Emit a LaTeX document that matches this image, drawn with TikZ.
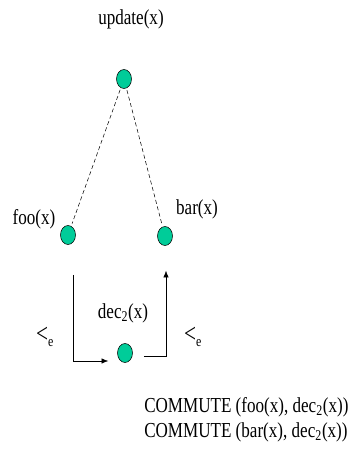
\documentclass[tikz,border=0pt]{standalone}
\usepackage{fontspec}
\setmainfont{Liberation Serif}[FakeStretch=0.8]
\usetikzlibrary{shapes.geometric,arrows.meta}
\definecolor{opgreen}{RGB}{0,204,153}
\newcommand{\ordsym}{{\fontsize{20}{20}\selectfont<}\textsubscript{e}}
\begin{document}
\begin{tikzpicture}[
  x=0.75pt, y=-0.75pt,
  op/.style={ellipse, draw, thin, fill=opgreen, minimum width=11.25pt, minimum height=14.25pt, inner sep=0pt},
  lbl/.style={font=\fontsize{16}{19}\selectfont, inner sep=0pt},
  conflict/.style={draw, densely dashed, thin, shorten <=1.5pt, shorten >=2pt},
  elbow/.style={draw, thin, -{Latex[length=5pt,width=4pt]}}
]
  \useasboundingbox (0,0) rectangle (360,466);
  % operations
  \node[op] (update) at (124,79) {};
  \node[op] (foo) at (68,235) {};
  \node[op] (bar) at (165,236) {};
  \node[op] (dec) at (125,353) {};

  % names
  \node[lbl] (updatelbl) at (131,19) {update(x)};
  \node[lbl] (foolbl) at (34,219) {foo(x)};
  \node[lbl] (barlbl) at (197,209) {bar(x)};
  \node[lbl] (declbl) at (123,313) {dec\textsubscript{2}(x)};

  \draw[conflict] (update) -- (foo);
  \draw[conflict] (update) -- (bar);

  % execution order
  \draw[elbow, shorten <=22.5pt, shorten >=6.75pt] ([xshift=3.75pt]foo.south) |- ([yshift=-6pt]dec.west);
  \draw[elbow, shorten <=8.25pt, shorten >=18.75pt] ([yshift=-2.25pt]dec.east) -| ([xshift=0.75pt]bar.south);
  \node[lbl] (orderleft) at (45,337) {\ordsym};
  \node[lbl] (orderright) at (193,337) {\ordsym};

  \node[lbl, anchor=west, align=left, font=\fontsize{16}{18.75}\selectfont] (commute) at (144,419.5)
    {COMMUTE (foo(x), dec\textsubscript{2}(x))\\COMMUTE (bar(x), dec\textsubscript{2}(x))};
\end{tikzpicture}
\end{document}
